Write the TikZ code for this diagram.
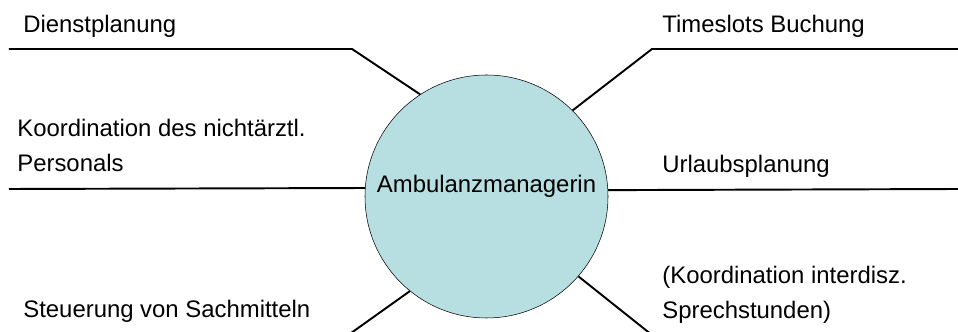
\documentclass[tikz,border=0pt]{standalone}
\usepackage{fontspec}
\setmainfont{Liberation Sans}
\usetikzlibrary{positioning}
\definecolor{hubfill}{HTML}{B7DEE0}

\tikzset{
  spoke/.style={black, line width=1.1pt},
  topic/.style={font=\fontsize{13.6}{20.4}\selectfont, anchor=base west, inner sep=0pt, align=left},
}

\begin{document}
\begin{tikzpicture}

\useasboundingbox (0,0) rectangle (19.16,6.64);

%--- Central circle
\node[circle, draw, line width=0.3pt, fill=hubfill, minimum size=4.86cm, inner sep=0pt,
      font=\fontsize{13.6}{16}\selectfont, text height=0.35cm, text depth=0.49cm] (hub) at (9.73,2.71) {Ambulanzmanagerin};

%--- Bends and free ends of the spokes
\coordinate (dpBend) at (7.04,5.66);
\coordinate (dpEnd)  at (0.18,5.66);
\coordinate (tsBend) at (13.04,5.66);
\coordinate (tsEnd)  at (19.16,5.66);
\coordinate (kpEnd)  at (0.18,2.86);
\coordinate (upEnd)  at (19.16,2.86);
\coordinate (smEnd)  at (6.91,-0.1);
\coordinate (ksEnd)  at (13.09,-0.1);

%--- Spokes
\draw[spoke] (hub.123.6) -- (dpBend) -- (dpEnd);
\draw[spoke] (hub.45.7)  -- (tsBend) -- (tsEnd);
\draw[spoke] (hub.176.5) -- (kpEnd);
\draw[spoke] (hub.3.5)   -- (upEnd);
\draw[spoke] (hub.231.6) -- (smEnd);
\draw[spoke] (hub.-41.7) -- (ksEnd);

%--- Topic labels (base = last line)
\node[topic] (dienst)    at (0.46,5.98)  {Dienstplanung};
\node[topic] (timeslots) at (13.24,5.98) {Timeslots Buchung};
\node[topic] (koord)     at (0.34,3.2)   {Koordination des nichtärztl.\\Personals};
\node[topic] (urlaub)    at (13.24,3.18) {Urlaubsplanung};
\node[topic] (steuer)    at (0.46,0.28)  {Steuerung von Sachmitteln};
\node[topic] (sprech)    at (13.24,0.26) {(Koordination interdisz.\\Sprechstunden)};

\end{tikzpicture}
\end{document}
